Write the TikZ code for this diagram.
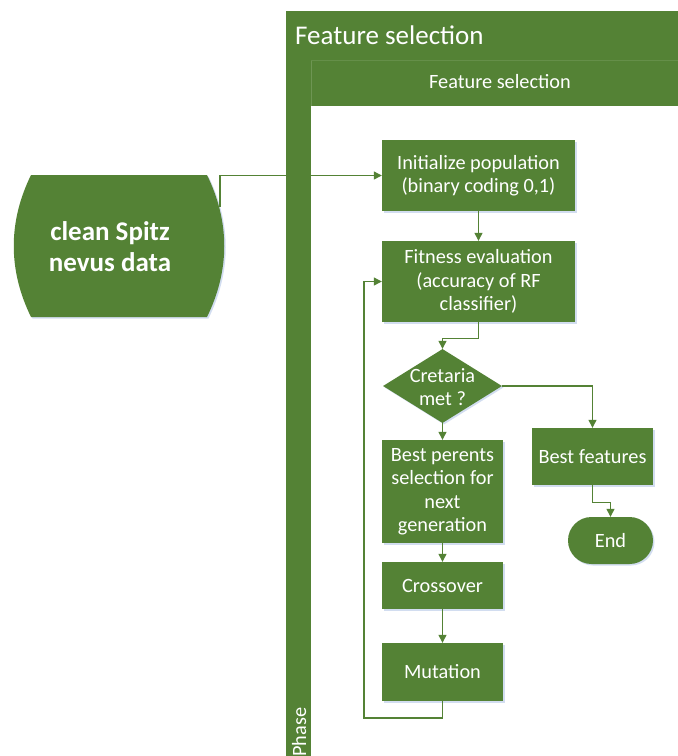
\documentclass[tikz,border=0pt]{standalone}
\usepackage{fontspec}
\setmainfont{Carlito}
\usetikzlibrary{shapes.geometric,arrows.meta,shadows}
\definecolor{fg}{HTML}{548235}
\definecolor{shd}{HTML}{B4C7E7}
\tikzset{
  box/.style={rectangle, fill=fg, text=white, inner sep=0pt, align=center,
    font=\fontsize{20.3}{23.5}\selectfont,
    drop shadow={shadow xshift=1.5pt, shadow yshift=-1.5pt, fill=shd, opacity=0.6}},
  conn/.style={draw=fg, line width=1.2pt, -{Triangle[length=8pt,width=8pt]}},
  lbl/.style={text=white, inner sep=0pt, align=center, font=\fontsize{20.3}{23.5}\selectfont}
}
\begin{document}
\begin{tikzpicture}[x=1pt,y=-1pt]
\useasboundingbox (0,0) rectangle (678,756);
% container
\fill[fg] (286,11) rectangle (690,770);
\fill[white] (311,106) rectangle (690,770);
\draw[fg!85!white, line width=0.6pt] (311,60) -- (311,106);
\draw[fg!90!white, line width=0.6pt] (286,60) -- (690,60);
\node[lbl, anchor=base west, font=\fontsize{27}{30}\selectfont] (t1) at (295,44) {Feature selection};
\node[lbl, anchor=base] (t2) at (500,88) {Feature selection};
% data shape
\fill[fg, drop shadow={shadow xshift=1.5pt, shadow yshift=-1.5pt, fill=shd, opacity=0.6}]
  (31,175) -- (207,175) .. controls (230,222) and (230,270) .. (207,317)
  -- (31,317) .. controls (8,270) and (8,222) .. (31,175) -- cycle;
\node[lbl, font=\bfseries\fontsize{27}{31}\selectfont] (data) at (110,247) {clean Spitz\\nevus data};
\coordinate (dataout) at (220,207);
% nodes
\node[box, minimum width=193pt, minimum height=71pt] (init) at (478.5,175.5) {Initialize population\\(binary coding 0,1)};
\node[box, minimum width=193pt, minimum height=81pt] (fit) at (478.5,281.5) {Fitness evaluation\\(accuracy of RF\\classifier)};
\node[diamond, fill=fg, inner sep=0pt, minimum width=119pt, minimum height=74pt,
  drop shadow={shadow xshift=1.5pt, shadow yshift=-1.5pt, fill=shd, opacity=0.6}] (dia) at (442.5,386) {};
\node[lbl] (diat) at (442.5,387) {Cretaria\\met ?};
\node[box, minimum width=121pt, minimum height=103pt] (bp) at (442.5,491.5) {Best perents\\selection for\\next\\generation};
\node[box, minimum width=121pt, minimum height=47pt] (cross) at (442.5,585.5) {Crossover};
\node[box, minimum width=121pt, minimum height=58pt] (mut) at (442.5,672) {Mutation};
\node[box, minimum width=121pt, minimum height=57pt] (bf) at (592.5,456.5) {Best features};
\node[box, minimum width=85pt, minimum height=47pt, rounded corners=23.5pt] (end) at (610.5,540.5) {End};
\coordinate (loop) at (364,718);
% connectors
\draw[conn] (dataout) |- (init.west);
\draw[conn] (init.south) -- (fit.north);
\draw[conn] (fit.south) -- ++(0,16) -| (dia.north);
\draw[conn] (dia.south) -- (bp.north);
\draw[conn] (bp.south) -- (cross.north);
\draw[conn] (cross.south) -- (mut.north);
\draw[conn] (mut.south) |- (loop) |- (fit.west);
\draw[conn] (dia.east) -| (bf.north);
\draw[conn] (bf.south) -- ++(0,17) -| (end.north);
% vertical phase bar on top
\fill[fg] (286,60) rectangle (311,770);
\node[lbl, rotate=90, anchor=base west] (phase) at (306,757) {Phase};
\end{tikzpicture}
\end{document}
